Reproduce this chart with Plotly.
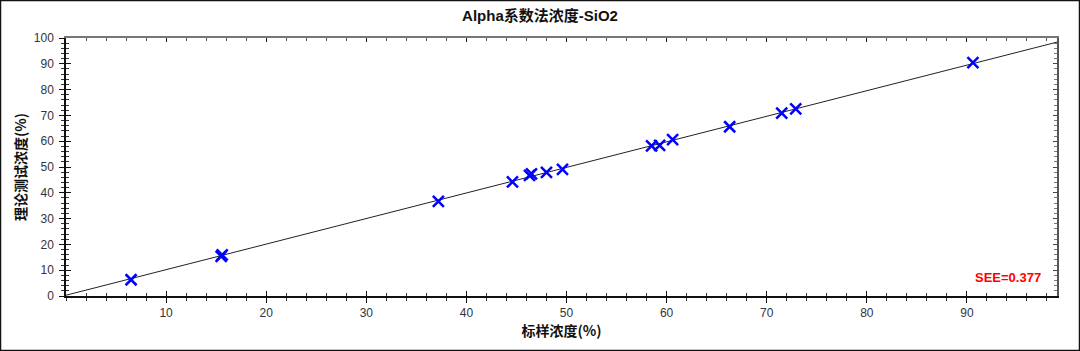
import plotly.graph_objects as go

std_conc = [6.5, 15.5, 15.6, 37.2, 44.6, 46.3, 46.5, 48.0, 49.6, 58.5, 59.3, 60.6, 66.3, 71.5, 72.9, 90.6]
test_conc = [6.3, 15.4, 15.9, 36.7, 44.2, 46.8, 47.3, 47.9, 49.1, 58.2, 58.4, 60.6, 65.6, 70.9, 72.5, 90.5]
fit_x = [0, 99]
fit_y = [0.3, 98.4]
x_ticks = [10, 20, 30, 40, 50, 60, 70, 80, 90]
y_ticks = [0, 10, 20, 30, 40, 50, 60, 70, 80, 90, 100]

L, R, T, B = 66, 23, 38, 55
W, H = 1080, 351
pw, ph = W - L - R, H - T - B

fig = go.Figure()
fig.add_trace(go.Scatter(x=fit_x, y=fit_y, mode="lines",
                         line=dict(color="#222222", width=1), hoverinfo="skip"))
fig.add_trace(go.Scatter(x=std_conc, y=test_conc, mode="markers",
                         marker=dict(symbol="x-thin", size=11, color="#0000ff",
                                     line=dict(color="#0000ff", width=2.5))))
# invisible traces to activate overlay axes
fig.add_trace(go.Scatter(x=[0], y=[0], xaxis="x2", yaxis="y2", mode="markers",
                         marker=dict(opacity=0), hoverinfo="skip"))
fig.add_trace(go.Scatter(x=[0], y=[0], xaxis="x3", yaxis="y3", mode="markers",
                         marker=dict(opacity=0), hoverinfo="skip"))

tickfont = dict(family="Liberation Sans, Arial", size=12, color="#333340")
base_x = dict(range=[0, 99], showgrid=False, zeroline=False, tick0=0, dtick=10)
base_y = dict(range=[0, 100], showgrid=False, zeroline=False, tick0=0, dtick=10)

fig.update_layout(
    width=W, height=H,
    margin=dict(l=L, r=R, t=T, b=B),
    plot_bgcolor="white", paper_bgcolor="white",
    showlegend=False,
    title=dict(text="<b>Alpha系数法浓度-SiO2</b>", x=0.5, xanchor="center",
               y=1 - 16 / H, yanchor="middle",
               font=dict(family="Liberation Sans, Noto Sans CJK SC", size=15, color="#111111")),
    xaxis=dict(**base_x, tickmode="array", tickvals=x_ticks, ticktext=[str(v) for v in x_ticks],
               showline=True, linecolor="#111111", linewidth=1.5,
               ticks="outside", ticklen=5, tickcolor="#111111", tickwidth=1.3,
               minor=dict(ticks="outside", ticklen=3, dtick=2, tick0=0, tickcolor="#333333"),
               tickfont=tickfont,
               title=dict(text="<b>标样浓度(%)</b>", standoff=7,
                          font=dict(family="Noto Sans CJK SC", size=14, color="#111111"))),
    yaxis=dict(**base_y, tickmode="array", tickvals=y_ticks, ticktext=[str(v) for v in y_ticks],
               showline=True, linecolor="#111111", linewidth=1.5,
               ticks="outside", ticklen=5, tickcolor="#111111", tickwidth=1.3,
               minor=dict(ticks="outside", ticklen=3, dtick=2, tick0=0, tickcolor="#333333"),
               tickfont=tickfont, ticklabelstandoff=3,
               title=dict(text="<b>理论测试浓度(%)</b>", standoff=4,
                          font=dict(family="Noto Sans CJK SC", size=14, color="#111111"))),
    xaxis2=dict(**base_x, overlaying="x", side="bottom", showticklabels=False,
                ticks="inside", ticklen=5, tickcolor="#111111", tickwidth=1.3,
                minor=dict(ticks="inside", ticklen=3, dtick=2, tick0=0, tickcolor="#333333")),
    yaxis2=dict(**base_y, overlaying="y", side="left", showticklabels=False,
                ticks="inside", ticklen=5, tickcolor="#111111", tickwidth=1.3,
                minor=dict(ticks="inside", ticklen=3, dtick=2, tick0=0, tickcolor="#333333")),
    xaxis3=dict(**base_x, overlaying="x", side="top", showticklabels=False,
                showline=True, linecolor="#777777", linewidth=2,
                ticks="inside", ticklen=4, tickcolor="#222222", tickwidth=1.2,
                minor=dict(ticks="inside", ticklen=3, dtick=2, tick0=0, tickcolor="#555555")),
    yaxis3=dict(**base_y, overlaying="y", side="right", showticklabels=False,
                showline=True, linecolor="#555555", linewidth=1.5,
                ticks="inside", ticklen=4, tickcolor="#444444", tickwidth=1,
                minor=dict(ticks="inside", ticklen=3, dtick=2, tick0=0, tickcolor="#777777")),
    annotations=[dict(text="<b>SEE=0.377</b>", xref="paper", yref="paper",
                      x=(1043 - L) / pw, y=(H - B - 277) / ph,
                      xanchor="right", yanchor="middle", showarrow=False,
                      font=dict(family="Liberation Sans, Arial", size=13, color="#ff0000"))],
    shapes=[dict(type="rect", xref="paper", yref="paper",
                 x0=-(L - 0.5) / pw, x1=1 + (R - 0.5) / pw,
                 y0=-(B - 0.5) / ph, y1=1 + (T - 0.5) / ph,
                 line=dict(color="#111111", width=1.5), fillcolor="rgba(0,0,0,0)", layer="above")],
)

fig.write_html("out.html")
